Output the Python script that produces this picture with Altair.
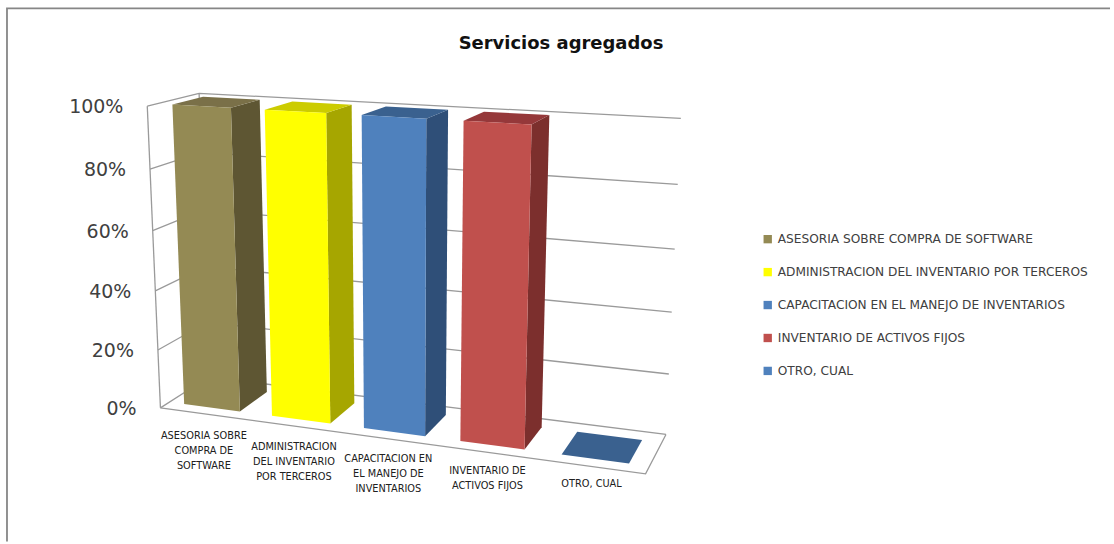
import altair as alt
import numpy as np
import pandas as pd

# Chart content
CATEGORIES = [
    "ASESORIA SOBRE COMPRA DE SOFTWARE",
    "ADMINISTRACION DEL INVENTARIO POR TERCEROS",
    "CAPACITACION EN EL MANEJO DE INVENTARIOS",
    "INVENTARIO DE ACTIVOS FIJOS",
    "OTRO, CUAL",
]
AXIS_LABELS = [
    "ASESORIA SOBRE\nCOMPRA DE\nSOFTWARE",
    "ADMINISTRACION\nDEL INVENTARIO\nPOR TERCEROS",
    "CAPACITACION EN\nEL MANEJO DE\nINVENTARIOS",
    "INVENTARIO DE\nACTIVOS FIJOS",
    "OTRO, CUAL",
]
VALUES = [1.0, 1.0, 1.0, 1.0, 0.0]
TICKS = [0.0, 0.2, 0.4, 0.6, 0.8, 1.0]
TITLE = "Servicios agregados"

FRONT_COLORS = ["#948a54", "#ffff00", "#4f81bd", "#c0504d", "#4f81bd"]
SIDE_COLORS = ["#5e5633", "#a6a600", "#2f4f78", "#7c2f2d", "#2f4f78"]
TOP_COLORS = ["#7a7048", "#cccc00", "#3a618f", "#95383a", "#3a618f"]

W, H = 1114, 544

# Camera of the 3-D box: (category position, depth, value) -> canvas pixels,
# solved from the corners of the walls and floor.
CORNERS = [
    ((0, 0, 1), (147, 106)),
    ((0, 0, 0), (161, 409)),
    ((0, 1, 1), (200, 93)),
    ((0, 1, 0), (209, 376)),
    ((5, 1, 1), (682, 118)),
    ((5, 1, 0), (667, 436)),
    ((5, 0, 0), (647, 473)),
]
rows, rhs = [], []
for (u, d, v), (px, py) in CORNERS:
    rows.append([u, d, v, 1, 0, 0, 0, 0, -px * u, -px * d, -px * v])
    rhs.append(px)
    rows.append([0, 0, 0, 0, u, d, v, 1, -py * u, -py * d, -py * v])
    rhs.append(py)
cam = np.linalg.lstsq(np.array(rows, float), np.array(rhs, float), rcond=None)[0]
cam = np.append(cam, 1.0).reshape(3, 4)


def project(u, d, v):
    px, py, w = cam @ np.array([u, d, v, 1.0])
    return float(px / w), float(py / w)


# Bars sit inside their category slot and depth band
SLOT_START, SLOT_END = 0.17, 0.81
DEPTH_NEAR, DEPTH_FAR = 0.18, 0.78

polys_front, polys_other = [], []


def add_poly(store, name, corners, **extra):
    for seq, (u, d, v) in enumerate(corners):
        px, py = project(u, d, v)
        store.append({"poly": name, "seq": seq, "px": px, "py": py, **extra})


for i, (cat, val) in enumerate(zip(CATEGORIES, VALUES)):
    u0, u1 = i + SLOT_START, i + SLOT_END
    d0, d1 = DEPTH_NEAR, DEPTH_FAR
    add_poly(polys_front, f"front{i}",
             [(u0, d0, 0), (u1, d0, 0), (u1, d0, val), (u0, d0, val), (u0, d0, 0)],
             series=cat)
    add_poly(polys_other, f"side{i}",
             [(u1, d0, 0), (u1, d1, 0), (u1, d1, val), (u1, d0, val), (u1, d0, 0)],
             col=SIDE_COLORS[i])
    add_poly(polys_other, f"top{i}",
             [(u0, d0, val), (u1, d0, val), (u1, d1, val), (u0, d1, val), (u0, d0, val)],
             col=TOP_COLORS[i])

# Wall grid lines and floor outline
edges = []
for n, t in enumerate(TICKS):
    add_poly(edges, f"grid{n}", [(0, 0, t), (0, 1, t), (5, 1, t)])
add_poly(edges, "front_edge", [(0, 0, 0), (0, 0, 1)])
add_poly(edges, "back_edge", [(0, 1, 0), (0, 1, 1)])
add_poly(edges, "floor", [(0, 0, 0), (5, 0, 0), (5, 1, 0)])

# Value labels beside the left wall, category labels under the floor
tick_rows = []
for t in TICKS:
    px, py = project(0, 0, t)
    tick_rows.append({"label": f"{round(t * 100)}%", "px": px - 24, "py": py + 1})
cat_rows = []
for i, text in enumerate(AXIS_LABELS):
    px, py = project(i + 0.5, 0, 0)
    cat_rows.append({"label": text, "px": px, "py": py + 17 - i})

x = alt.X("px:Q", scale=alt.Scale(domain=[0, W], range=[0, W]), axis=None)
y = alt.Y("py:Q", scale=alt.Scale(domain=[0, H], range=[0, H]), axis=None)

# Outer frame: left and top sides only, stopping short of the canvas edge
frame = alt.Chart(pd.DataFrame({"px": [7, 7, W - 2], "py": [H - 2, 8, 8], "seq": [0, 1, 2]})).mark_line(
    color="#868686", strokeWidth=1.8
).encode(x=x, y=y, order="seq:Q")

wall_lines = alt.Chart(pd.DataFrame(edges)).mark_line(color="#9a9a9a", strokeWidth=1.3).encode(
    x=x, y=y, detail="poly:N", order="seq:Q"
)

bar_faces = alt.Chart(pd.DataFrame(polys_other)).mark_line(filled=True, strokeWidth=0).encode(
    x=x, y=y, detail="poly:N", order="seq:Q",
    fill=alt.Fill("col:N", scale=None),
)

bar_fronts = alt.Chart(pd.DataFrame(polys_front)).mark_line(filled=True, strokeWidth=0).encode(
    x=x, y=y, detail="poly:N", order="seq:Q",
    fill=alt.Fill(
        "series:N",
        scale=alt.Scale(domain=CATEGORIES, range=FRONT_COLORS),
        legend=alt.Legend(
            title=None, orient="none", legendX=763, legendY=233,
            symbolType="square", symbolSize=70, symbolStrokeWidth=0,
            labelFont="DejaVu Sans", labelFontSize=12.2, labelColor="#404040",
            labelLimit=400, rowPadding=20, labelOffset=4,
        ),
    ),
)

tick_text = alt.Chart(pd.DataFrame(tick_rows)).mark_text(
    align="right", baseline="middle", font="DejaVu Sans", fontSize=19, color="#404040"
).encode(x=x, y=y, text="label:N")

cat_text = alt.Chart(pd.DataFrame(cat_rows)).mark_text(
    align="center", baseline="top", font="DejaVu Sans", fontSize=9.8,
    lineBreak="\n", lineHeight=15, color="#202020"
).encode(x=x, y=y, text="label:N")

title_text = alt.Chart(pd.DataFrame({"px": [562], "py": [44], "label": [TITLE]})).mark_text(
    align="center", baseline="middle", font="DejaVu Sans", fontSize=18, fontWeight="bold", color="#111111"
).encode(x=x, y=y, text="label:N")

chart = (
    alt.layer(frame, wall_lines, bar_faces, bar_fronts, tick_text, cat_text, title_text)
    .resolve_scale(fill="independent")
    .properties(width=W, height=H, padding=0, background="white")
    .configure_view(stroke=None)
)

chart.save("out.html", embed_options={"renderer": "svg", "actions": False})
